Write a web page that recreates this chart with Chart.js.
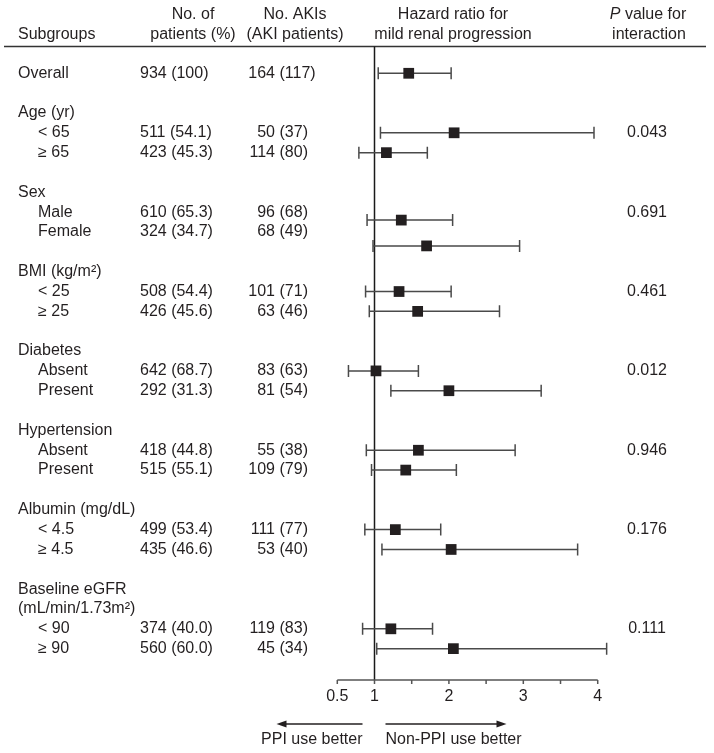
<!DOCTYPE html>
<html><head><meta charset="utf-8">
<script src="https://cdn.jsdelivr.net/npm/chart.js@4/dist/chart.umd.min.js"></script>
<style>html,body{margin:0;padding:0;background:#fff}#c{display:block}</style>
</head><body>
<canvas id="c" width="714" height="753"></canvas>
<script>
// ---------- data ----------
const subgroups = ['Overall','< 65','≥ 65','Male','Female','< 25','≥ 25','Absent','Present','Absent','Present','< 4.5','≥ 4.5','< 90','≥ 90'];
const subgroupIsHeader = [true,false,false,false,false,false,false,false,false,false,false,false,false,false,false];
const patients = ['934 (100)','511 (54.1)','423 (45.3)','610 (65.3)','324 (34.7)','508 (54.4)','426 (45.6)','642 (68.7)','292 (31.3)','418 (44.8)','515 (55.1)','499 (53.4)','435 (46.6)','374 (40.0)','560 (60.0)'];
const akiCounts = ['164','50','114','96','68','101','63','83','81','55','109','111','53','119','45'];
const akiPatients = ['(117)','(37)','(80)','(68)','(49)','(71)','(46)','(63)','(54)','(38)','(79)','(77)','(40)','(83)','(34)'];
const hazardRatio = [1.46, 2.07, 1.16, 1.36, 1.70, 1.33, 1.58, 1.02, 2.00, 1.59, 1.42, 1.28, 2.03, 1.22, 2.06];
const ciLower     = [1.05, 1.08, 0.79, 0.90, 0.98, 0.88, 0.93, 0.65, 1.22, 0.89, 0.96, 0.87, 1.10, 0.84, 1.03];
const ciUpper     = [2.03, 3.95, 1.71, 2.05, 2.95, 2.03, 2.68, 1.59, 3.24, 2.89, 2.10, 1.89, 3.73, 1.78, 4.12];
const textRows    = [0, 3, 4, 7, 8, 11, 12, 15, 16, 19, 20, 23, 24, 28, 29];
const markerRows  = [0, 3, 4, 7.4, 8.7, 11, 12, 15, 16, 19, 20, 23, 24, 28, 29];
const groupHeaders = ['Age (yr)','Sex','BMI (kg/m²)','Diabetes','Hypertension','Albumin (mg/dL)','Baseline eGFR','(mL/min/1.73m²)'];
const groupHeaderRows = [2, 6, 10, 14, 18, 22, 26, 27];
const pValues = ['0.043','0.691','0.461','0.012','0.946','0.176','0.111'];
const pValueRows = [3, 7, 11, 15, 19, 23, 28];
const xTicks = [0.5, 1, 1.5, 2, 2.5, 3, 3.5, 4];
const xTickLabels = ['0.5','1','','2','','3','','4'];

// ---------- style ----------
const FONT = '16px "Liberation Sans", Arial, Helvetica, sans-serif';
const IFONT = 'italic 16px "Liberation Sans", Arial, Helvetica, sans-serif';
const TXT = '#231f20';

const forestPlugin = {
  id: 'forest',
  beforeDatasetsDraw(chart) {
    const {ctx, scales: {x, y}, chartArea: ca} = chart;
    ctx.save();
    // header rule
    ctx.strokeStyle = '#333'; ctx.lineWidth = 1.3;
    ctx.beginPath(); ctx.moveTo(4, ca.top); ctx.lineTo(706, ca.top); ctx.stroke();
    // reference line at HR = 1
    const x1 = x.getPixelForValue(1);
    ctx.strokeStyle = '#1a1a1a'; ctx.lineWidth = 1.5;
    ctx.beginPath(); ctx.moveTo(x1, ca.top); ctx.lineTo(x1, ca.bottom); ctx.stroke();
    // whiskers
    ctx.strokeStyle = '#4a4a4a'; ctx.lineWidth = 1.5;
    for (let i = 0; i < hazardRatio.length; i++) {
      const yy = y.getPixelForValue(markerRows[i]);
      const a = x.getPixelForValue(ciLower[i]), b = x.getPixelForValue(ciUpper[i]);
      ctx.beginPath();
      ctx.moveTo(a, yy); ctx.lineTo(b, yy);
      ctx.moveTo(a, yy - 6); ctx.lineTo(a, yy + 6);
      ctx.moveTo(b, yy - 6); ctx.lineTo(b, yy + 6);
      ctx.stroke();
    }
    // x axis
    const xa = x.getPixelForValue(xTicks[0]), xb = x.getPixelForValue(xTicks[xTicks.length - 1]);
    ctx.strokeStyle = '#555'; ctx.lineWidth = 1.5;
    ctx.beginPath(); ctx.moveTo(xa, ca.bottom); ctx.lineTo(xb, ca.bottom);
    xTicks.forEach(t => { const px = x.getPixelForValue(t); ctx.moveTo(px, ca.bottom); ctx.lineTo(px, ca.bottom + 4); });
    ctx.stroke();
    ctx.fillStyle = TXT; ctx.font = FONT; ctx.textAlign = 'center'; ctx.textBaseline = 'middle';
    xTicks.forEach((t, i) => { if (xTickLabels[i]) ctx.fillText(xTickLabels[i], x.getPixelForValue(t), ca.bottom + 17); });
    // arrows
    const ay = ca.bottom + 44;
    ctx.strokeStyle = '#231f20'; ctx.fillStyle = '#231f20'; ctx.lineWidth = 1.3;
    ctx.beginPath(); ctx.moveTo(x1 - 12, ay); ctx.lineTo(x1 - 90, ay); ctx.stroke();
    ctx.beginPath(); ctx.moveTo(x1 - 98, ay); ctx.lineTo(x1 - 88, ay - 3.5); ctx.lineTo(x1 - 88, ay + 3.5); ctx.closePath(); ctx.fill();
    ctx.beginPath(); ctx.moveTo(x1 + 11, ay); ctx.lineTo(x1 + 124, ay); ctx.stroke();
    ctx.beginPath(); ctx.moveTo(x1 + 132, ay); ctx.lineTo(x1 + 122, ay - 3.5); ctx.lineTo(x1 + 122, ay + 3.5); ctx.closePath(); ctx.fill();
    ctx.fillStyle = TXT;
    ctx.textAlign = 'right'; ctx.fillText('PPI use better', x1 - 12, ay + 16);
    ctx.textAlign = 'left'; ctx.fillText('Non-PPI use better', x1 + 11, ay + 16);
    // column headers
    ctx.textAlign = 'left'; ctx.fillText('Subgroups', 18, 35);
    ctx.textAlign = 'center';
    ctx.fillText('No. of', 193, 15); ctx.fillText('patients (%)', 193, 35);
    ctx.fillText('No. AKIs', 295, 15); ctx.fillText('(AKI patients)', 295, 35);
    ctx.fillText('Hazard ratio for', 453, 15); ctx.fillText('mild renal progression', 453, 35);
    // "P value for" with italic P
    ctx.textAlign = 'left';
    ctx.font = IFONT; const wP = ctx.measureText('P').width;
    ctx.font = FONT; const wRest = ctx.measureText(' value for').width;
    const sx = 648 - (wP + wRest) / 2;
    ctx.font = IFONT; ctx.fillText('P', sx, 15);
    ctx.font = FONT; ctx.fillText(' value for', sx + wP, 15);
    ctx.textAlign = 'center'; ctx.fillText('interaction', 649, 35);
    // group headers
    ctx.textAlign = 'left';
    groupHeaders.forEach((g, i) => ctx.fillText(g, 18, y.getPixelForValue(groupHeaderRows[i])));
    // subgroup rows
    subgroups.forEach((s, i) => {
      const yy = y.getPixelForValue(textRows[i]);
      ctx.textAlign = 'left';
      ctx.fillText(s, subgroupIsHeader[i] ? 18 : 38, yy);
      ctx.fillText(patients[i], 140, yy);
      ctx.textAlign = 'right'; ctx.fillText(akiCounts[i], 275, yy);
      ctx.textAlign = 'left'; ctx.fillText(akiPatients[i], 279.5, yy);
    });
    ctx.textAlign = 'center';
    pValues.forEach((p, i) => ctx.fillText(p, 647, y.getPixelForValue(pValueRows[i])));
    ctx.restore();
  }
};

new Chart(document.getElementById('c'), {
  type: 'scatter',
  data: {
    datasets: [{
      data: hazardRatio.map((v, i) => ({x: v, y: markerRows[i]})),
      pointStyle: 'rect',
      pointRadius: 7.6,
      pointHoverRadius: 7.6,
      backgroundColor: '#231f20',
      borderColor: '#231f20',
      borderWidth: 0,
      clip: false
    }]
  },
  options: {
    responsive: false,
    animation: false,
    devicePixelRatio: 1,
    layout: {padding: {left: 337.3, right: 101.4, top: 46.5, bottom: 73}},
    plugins: {legend: {display: false}, tooltip: {enabled: false}},
    events: [],
    scales: {
      x: {type: 'linear', min: 0.5, max: 4.2, display: false},
      y: {type: 'linear', min: -1.35, max: 30.58, reverse: true, display: false}
    }
  },
  plugins: [forestPlugin]
});
</script>
</body></html>
